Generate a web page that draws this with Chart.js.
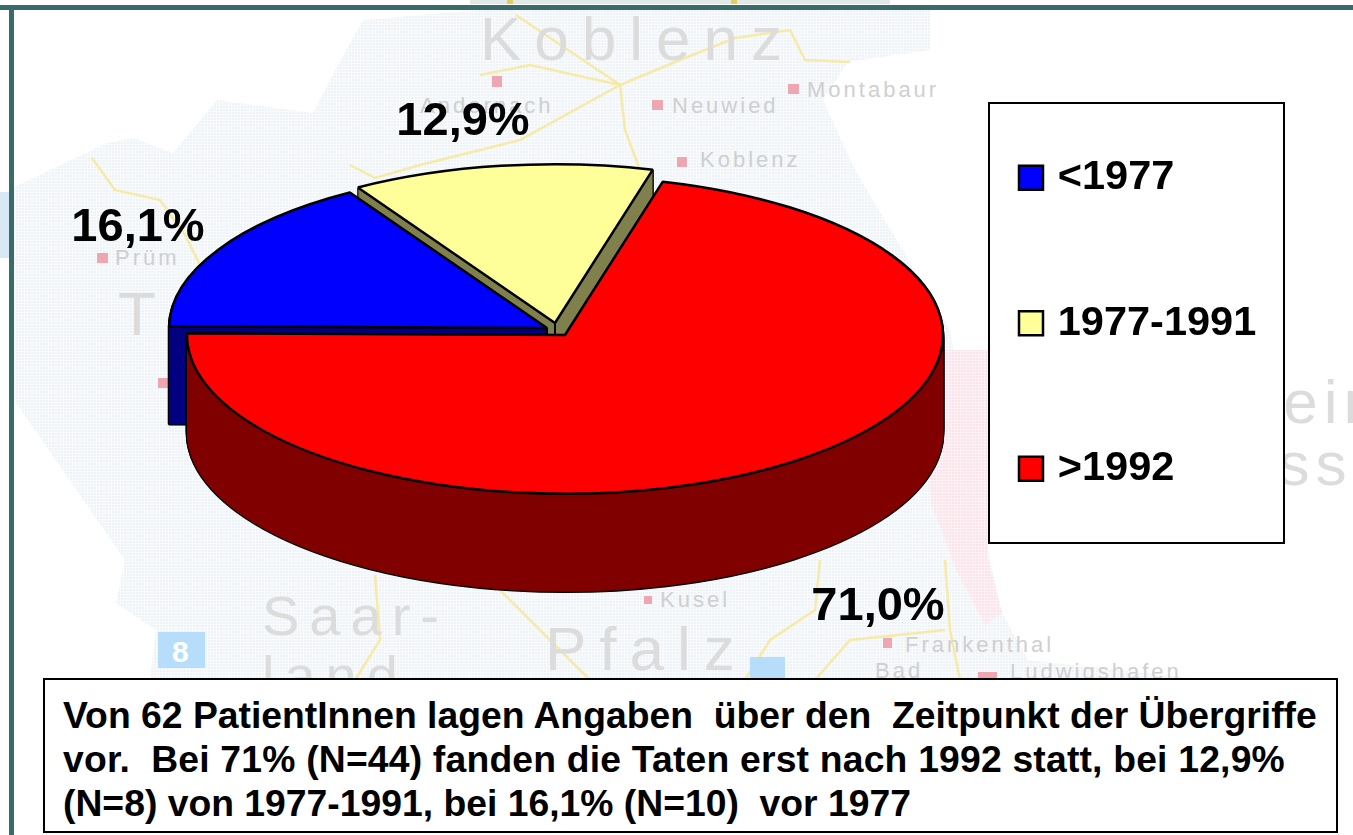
<!DOCTYPE html>
<html lang="de">
<head>
<meta charset="utf-8">
<title>Zeitpunkt der Übergriffe</title>
<script src="https://cdn.jsdelivr.net/npm/chart.js@4/dist/chart.umd.min.js"></script>
<style>
  html, body { margin: 0; padding: 0; background: #fff; overflow: hidden; }
  #stage { position: relative; width: 1353px; height: 835px; overflow: hidden; font-family: "Liberation Sans", Arial, sans-serif; }
  #map, #chart { position: absolute; left: 0; top: 0; }
  .frame { position: absolute; background: #3a6b6b; }
  #note {
    position: absolute; left: 43px; top: 678px; width: 1295px; height: 155px;
    box-sizing: border-box; border: 2px solid #000; background: #fff;
    font-weight: bold; font-size: 37.3px; line-height: 44px; color: #000;
    padding: 13px 0 0 18px; white-space: pre;
  }
  #note span { letter-spacing: 0.19px; }
</style>
</head>
<body>
<div id="stage">
  <!-- faint map behind the chart -->
  <svg id="map" width="1353" height="835" font-family="Liberation Sans, Arial, sans-serif">
    <defs>
      <pattern id="hatch" width="3" height="3" patternUnits="userSpaceOnUse">
        <rect width="3" height="3" fill="#edf3f6"/>
        <rect width="1" height="3" fill="#f8fafb"/>
        <rect width="3" height="1" fill="#f8fafb"/>
      </pattern>
      <pattern id="hatchPink" width="3" height="3" patternUnits="userSpaceOnUse">
        <rect width="3" height="3" fill="#fbe3e9"/>
        <rect width="1" height="3" fill="#fdf3f6"/>
        <rect width="3" height="1" fill="#fdf3f6"/>
      </pattern>
    </defs>
    <rect x="470" y="0" width="420" height="4" fill="#dfeae6"/>
    <rect x="507" y="0" width="6" height="4" fill="#e0cf60"/>
    <rect x="731" y="0" width="6" height="4" fill="#e0cf60"/>
    <rect x="0" y="192" width="14" height="66" fill="#d8e8f4"/>
    <polygon fill="url(#hatch)" points="14,187 50,170 107,143 133,138 173,153 217,100 313,113 337,67 363,20 480,10 930,10 930,50 848,62 823,100 855,170 950,330 990,560 1002,613 1028,660 1190,678 1190,680 150,680 156,630 116,603 125,560 14,400"/>
    <polygon fill="url(#hatchPink)" points="930,350 988,350 988,560 1002,613 985,625 956,570 930,500"/>
    <g fill="none" stroke="#f6eaa8" stroke-width="2.5">
      <polyline points="92,158 115,190 160,200 185,235 200,265"/>
      <polyline points="350,165 375,178 420,165 520,140 620,85 516,15"/>
      <polyline points="620,85 530,65 480,75"/>
      <polyline points="620,85 680,60 735,38 790,30 805,60 850,62"/>
      <polyline points="620,85 625,130 640,170"/>
      <polyline points="375,575 380,640 355,680"/>
      <polyline points="500,590 530,620 590,680"/>
      <polyline points="820,560 815,610 770,640 745,680"/>
      <polyline points="945,560 950,630 960,680"/>
      <polyline points="815,680 850,640 945,630"/>
    </g>
    <g fill="#dcdcdc" font-size="62">
      <text x="480" y="60" letter-spacing="13">Koblenz</text>
      <text x="118" y="335">T</text>
      <text x="262" y="635" font-size="56" letter-spacing="10">Saar-</text>
      <text x="262" y="695" font-size="56" letter-spacing="10">land</text>
      <text x="545" y="670" letter-spacing="13">Pfalz</text>
      <text x="1192" y="423" letter-spacing="6">Rhein</text>
      <text x="1238" y="485" letter-spacing="6">ess</text>
    </g>
    <g fill="#cfcfcf" font-size="22" letter-spacing="3">
      <text x="420" y="113">Andernach</text>
      <text x="672" y="113">Neuwied</text>
      <text x="807" y="97">Montabaur</text>
      <text x="700" y="167">Koblenz</text>
      <text x="115" y="265">Prüm</text>
      <text x="660" y="607">Kusel</text>
      <text x="905" y="652">Frankenthal</text>
      <text x="875" y="678">Bad</text>
      <text x="1010" y="679">Ludwigshafen</text>
    </g>
    <g fill="#eea6b0">
      <rect x="492" y="76" width="10" height="11"/>
      <rect x="652" y="100" width="11" height="10"/>
      <rect x="788" y="84" width="11" height="10"/>
      <rect x="677" y="157" width="10" height="10"/>
      <rect x="97" y="253" width="11" height="10"/>
      <rect x="158" y="378" width="10" height="10"/>
      <rect x="644" y="596" width="8" height="8"/>
      <rect x="883" y="638" width="9" height="10"/>
      <rect x="978" y="672" width="19" height="8"/>
    </g>
    <rect x="158" y="632" width="47" height="36" fill="#b6defa"/>
    <text x="172" y="662" font-size="30" font-weight="bold" fill="#fff">8</text>
    <rect x="750" y="657" width="35" height="24" fill="#b6defa"/>
  </svg>
  <canvas id="chart" width="1353" height="835"></canvas>
  <div class="frame" style="left:0;top:5px;width:1353px;height:5px"></div>
  <div class="frame" style="left:9px;top:5px;width:5px;height:830px"></div>
  <div id="note">Von 62 PatientInnen lagen Angaben  über den  Zeitpunkt der Übergriffe
<span>vor.  Bei 71% (N=44) fanden die Taten erst nach 1992 statt, bei 12,9%</span>
(N=8) von 1977-1991, bei 16,1% (N=10)  vor 1977</div>
</div>

<script>
  var categories = ['<1977', '1977-1991', '>1992'];
  var percentValues = [16.1, 12.9, 71.0];

  var sliceColors = ['#0000ff', '#ffff99', '#ff0000'];
  var sideColors = ['#000080', '#80804d', '#800000'];

  // pie look: the tilt is done by squashing the round arcs
  var pieCenter = { x: 565, y: 335 };
  var pieRadius = 378;
  var pieTilt = 0.42;
  var pieDepth = 98;
  var sliceShift = [[-18, -7], [-10, -12], [0, 0]];
  var drawOrder = [1, 0, 2];   // back to front

  var labelCenters = [[138, 228], [463, 122], [878, 607]];
  var legendBox = { left: 989, top: 103, right: 1284, bottom: 543 };

  // line width stays even although the context is squashed
  function drawArc(ctx, arc, index, dy, options) {
    var saved = arc.options;
    arc.options = Object.assign({}, saved, options);
    ctx.save();
    ctx.translate(pieCenter.x + sliceShift[index][0], pieCenter.y + sliceShift[index][1] + dy);
    ctx.scale(1, pieTilt);
    ctx.translate(-arc.x, -arc.y);
    ctx.stroke = function () {
      ctx.save();
      ctx.setTransform(1, 0, 0, 1, 0, 0);
      CanvasRenderingContext2D.prototype.stroke.call(ctx);
      ctx.restore();
    };
    arc.draw(ctx);
    delete ctx.stroke;
    ctx.restore();
    arc.options = saved;
  }

  var tiltedPie = {
    id: 'tiltedPie',
    afterLayout: function (chart) {
      // legend sits inside its own white box
      var legend = chart.legend;
      var pad = legend.options.labels.padding;
      legend.left = legendBox.left + 36 - pad;
      legend.right = legend.left + 2 * pad + 240;
      legend.top = legendBox.top + 54 - pad;
      legend.bottom = chart.height;
    },
    beforeDraw: function (chart) {
      var ctx = chart.ctx;
      ctx.save();
      ctx.fillStyle = '#fff';
      ctx.strokeStyle = '#000';
      ctx.lineWidth = 2;
      ctx.fillRect(legendBox.left, legendBox.top, legendBox.right - legendBox.left, legendBox.bottom - legendBox.top);
      ctx.strokeRect(legendBox.left, legendBox.top, legendBox.right - legendBox.left, legendBox.bottom - legendBox.top);
      ctx.restore();
    },
    beforeDatasetDraw: function (chart) {
      var ctx = chart.ctx;
      var arcs = chart.getDatasetMeta(0).data;

      drawOrder.forEach(function (i) {
        var arc = arcs[i];
        var d;
        // black silhouette first, then the side colour on top of it
        for (d = pieDepth; d > 0; d--) {
          drawArc(ctx, arc, i, d, { backgroundColor: '#000', borderColor: '#000' });
        }
        for (d = pieDepth; d > 0; d--) {
          drawArc(ctx, arc, i, d, { backgroundColor: sideColors[i], borderWidth: 0 });
        }
        // edge where the two cut faces meet
        ctx.save();
        ctx.strokeStyle = '#000';
        ctx.lineWidth = 2;
        ctx.beginPath();
        ctx.moveTo(pieCenter.x + sliceShift[i][0], pieCenter.y + sliceShift[i][1]);
        ctx.lineTo(pieCenter.x + sliceShift[i][0], pieCenter.y + sliceShift[i][1] + pieDepth);
        ctx.stroke();
        ctx.restore();
        drawArc(ctx, arc, i, 0, {});
      });
      return false;
    },
    afterDatasetsDraw: function (chart) {
      var ctx = chart.ctx;
      ctx.save();
      ctx.fillStyle = '#000';
      ctx.font = 'bold 47px "Liberation Sans", Arial, sans-serif';
      ctx.textAlign = 'center';
      ctx.textBaseline = 'middle';
      percentValues.forEach(function (value, i) {
        ctx.fillText(value.toFixed(1).replace('.', ',') + '%', labelCenters[i][0], labelCenters[i][1]);
      });
      ctx.restore();
    }
  };

  new Chart(document.getElementById('chart').getContext('2d'), {
    type: 'pie',
    data: {
      labels: categories,
      datasets: [{
        data: percentValues,
        backgroundColor: sliceColors,
        borderColor: '#000',
        borderWidth: 2.5,
        radius: pieRadius
      }]
    },
    options: {
      responsive: false,
      animation: false,
      events: [],
      rotation: -89.4,
      plugins: {
        tooltip: { enabled: false },
        legend: {
          position: 'right',
          align: 'start',
          labels: {
            color: '#000',
            font: { family: '"Liberation Sans", Arial, sans-serif', size: 41.5, weight: 'bold' },
            usePointStyle: true,
            pointStyle: 'rect',
            boxWidth: 12,
            boxHeight: 24,
            padding: 104
          }
        }
      }
    },
    plugins: [tiltedPie]
  });
</script>
</body>
</html>
